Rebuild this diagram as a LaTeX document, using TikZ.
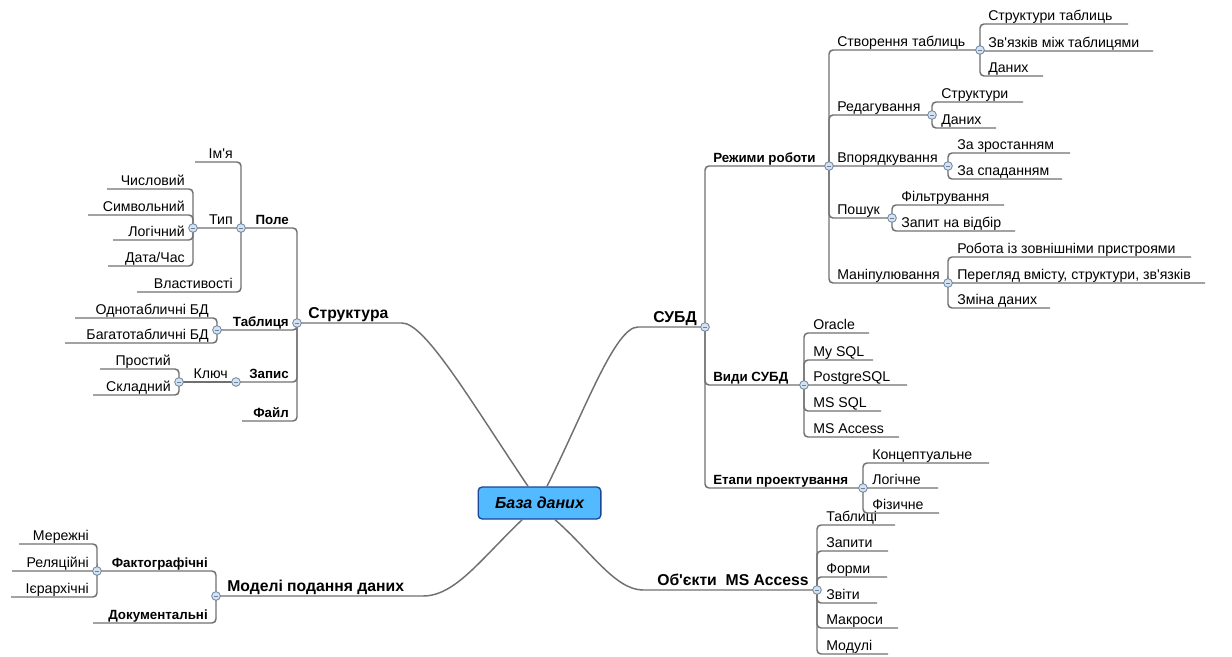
\documentclass[tikz,border=0pt]{standalone}
\usepackage{fontspec}
\setmainfont{Liberation Sans}
\usetikzlibrary{calc}
\definecolor{linegray}{RGB}{112,112,112}
\definecolor{knobfill}{RGB}{214,226,238}
\definecolor{knobedge}{RGB}{105,130,160}
\definecolor{dbfill}{RGB}{84,186,255}
\definecolor{dbedge}{RGB}{25,70,150}
\tikzset{%
  link/.style={draw=linegray, line width=1.1pt, rounded corners=3pt},
  curve/.style={draw=linegray, line width=1.1pt},
  leaftext/.style={inner sep=0pt, font=\fontsize{10.6}{12}\selectfont},
  branch/.style={inner sep=0pt, font=\fontsize{10}{12}\selectfont\bfseries},
  topic/.style={inner sep=0pt, font=\fontsize{11.8}{14}\selectfont\bfseries},
  knob/.style={circle, draw=knobedge, fill=knobfill, line width=0.6pt, minimum size=6.5pt, inner sep=0pt,
    path picture={\draw[knobedge, line width=0.6pt] ([xshift=1.6pt]path picture bounding box.west) -- ([xshift=-1.6pt]path picture bounding box.east);}},
  dbbox/.style={draw=dbedge, fill=dbfill, line width=1pt, rounded corners=3pt, minimum width=92pt, minimum height=24pt,
    font=\fontsize{12}{14}\selectfont\bfseries\itshape}
}
\newcommand{\apos}{\textquotesingle}

\begin{document}
\begin{tikzpicture}[x=0.75pt, y=-0.75pt]
\useasboundingbox (0,0) rectangle (1232,657);

\node [dbbox] (db) at (539.5,503) {База даних};

% main topics
\coordinate (strJ) at (297,323);  \coordinate (strE) at (402,323);
\coordinate (subdJ) at (705,327); \coordinate (subdE) at (638,327);
\coordinate (modJ) at (216,596);  \coordinate (modE) at (423,596);
\coordinate (objJ) at (817,590);  \coordinate (objE) at (643,590);

\draw [curve] ([xshift=-8.6pt]db.north) .. controls (470,400) and (425,323) .. (strE) -- (strJ);
\draw [curve] ([xshift=5.6pt]db.north) .. controls (585,410) and (615,327) .. (subdE) -- (subdJ);
\draw [curve] ([xshift=-13pt]db.south) .. controls (480,560) and (455,596) .. (modE) -- (modJ);
\draw [curve] ([xshift=11.6pt]db.south) .. controls (590,550) and (615,590) .. (objE) -- (objJ);

\node [topic, anchor=base west] (str) at (308,318) {Структура};
\node [topic, anchor=base east] (subd) at (697,322) {СУБД};
\node [topic, anchor=base west] (mod) at (227,591) {Моделі подання даних};
\node [topic, anchor=base east] (obj) at (809,585) {Об\apos єкти~~MS Access};

% Структура
\coordinate (poleJ) at (241,228);
\coordinate (tablJ) at (217,330);
\coordinate (zapJ) at (236,382);
\coordinate (fajlE) at (242,421);
\foreach \c in {poleJ, tablJ, zapJ, fajlE} {
  \draw [link] (strJ) |- (\c);
}
\foreach \n/\y/\t in {pole/228/Поле, tabl/330/Таблиця, zap/382/Запис, fajl/421/Файл} {
  \node [branch, anchor=base east] (\n) at (289,\y-4) {\t};
}

\coordinate (typJ) at (193,228);
\foreach \y/\e/\t [count=\i] in {162/195/Ім\apos я, 228/193/Тип, 292/137/Властивості} {
  \coordinate (pole\i) at (\e,\y);
  \draw [link] (poleJ) |- (pole\i);
  \node [leaftext, anchor=base east] (poleT\i) at (233,\y-4) {\t};
}
\foreach \y/\e/\t [count=\i] in {189/107/Числовий, 215/88/Символьний, 240/113/Логічний, 266/108/{Дата/Час}} {
  \coordinate (typ\i) at (\e,\y);
  \draw [link] (typJ) |- (typ\i);
  \node [leaftext, anchor=base east] (typT\i) at (185,\y-4) {\t};
}
\foreach \y/\e/\t [count=\i] in {318/75/Однотабличні БД, 343/65/Багатотабличні БД} {
  \coordinate (tabl\i) at (\e,\y);
  \draw [link] (tablJ) |- (tabl\i);
  \node [leaftext, anchor=base east] (tablT\i) at (209,\y-4) {\t};
}
\coordinate (kljJ) at (179,382);
\draw [link] (zapJ) -- (kljJ);
\node [leaftext, anchor=base east] (klj) at (228,378) {Ключ};
\foreach \y/\e/\t [count=\i] in {369/100/Простий, 395/93/Складний} {
  \coordinate (klj\i) at (\e,\y);
  \draw [link] (kljJ) |- (klj\i);
  \node [leaftext, anchor=base east] (kljT\i) at (171,\y-4) {\t};
}

% Моделі подання даних
\coordinate (faktJ) at (97,571);
\coordinate (dokE) at (93,623);
\draw [link] (modJ) |- (faktJ);
\draw [link] (modJ) |- (dokE);
\node [branch, anchor=base east] (fakt) at (208,567) {Фактографічні};
\node [branch, anchor=base east] (dok) at (208,619) {Документальні};
\foreach \y/\e/\t [count=\i] in {544/19/Мережні, 571/12/Реляційні, 597/11/Ієрархічні} {
  \coordinate (fakt\i) at (\e,\y);
  \draw [link] (faktJ) |- (fakt\i);
  \node [leaftext, anchor=base east] (faktT\i) at (89,\y-4) {\t};
}

% СУБД
\coordinate (rezhJ) at (829,166);
\coordinate (vydyJ) at (804,385);
\coordinate (etapJ) at (863,488);
\foreach \c in {rezhJ, vydyJ, etapJ} {
  \draw [link] (subdJ) |- (\c);
}
\foreach \n/\y/\t in {rezh/166/Режими роботи, vydy/385/Види СУБД, etap/488/Етапи проектування} {
  \node [branch, anchor=base west] (\n) at (713,\y-4) {\t};
}

\coordinate (stvJ) at (980,50);
\coordinate (redJ) at (932,115);
\coordinate (vporJ) at (948,166);
\coordinate (poshJ) at (892,218);
\coordinate (manJ) at (948,283);
\foreach \c/\y/\t in {stvJ/50/Створення таблиць, redJ/115/Редагування, vporJ/166/Впорядкування, poshJ/218/Пошук, manJ/283/Маніпулювання} {
  \draw [link] (rezhJ) |- (\c);
  \node [leaftext, anchor=base west] (\c T) at (837,\y-4) {\t};
}

\foreach \y/\e/\t [count=\i] in {24/1128/Структури таблиць, 51/1153/Зв\apos язків між таблицями, 76/1043/Даних} {
  \coordinate (stv\i) at (\e,\y);
  \draw [link] (stvJ) |- (stv\i);
  \node [leaftext, anchor=base west] (stvT\i) at (988,\y-4) {\t};
}
\foreach \y/\e/\t [count=\i] in {102/1023/Структури, 128/996/Даних} {
  \coordinate (red\i) at (\e,\y);
  \draw [link] (redJ) |- (red\i);
  \node [leaftext, anchor=base west] (redT\i) at (941,\y-4) {\t};
}
\foreach \y/\e/\t [count=\i] in {153/1070/За зростанням, 179/1062/За спаданням} {
  \coordinate (vpor\i) at (\e,\y);
  \draw [link] (vporJ) |- (vpor\i);
  \node [leaftext, anchor=base west] (vporT\i) at (957,\y-4) {\t};
}
\foreach \y/\e/\t [count=\i] in {205/1004/Фільтрування, 231/1015/Запит на відбір} {
  \coordinate (posh\i) at (\e,\y);
  \draw [link] (poshJ) |- (posh\i);
  \node [leaftext, anchor=base west] (poshT\i) at (901,\y-4) {\t};
}
\foreach \y/\e/\t [count=\i] in {257/1191/Робота із зовнішніми пристроями, 283/1205/{Перегляд вмісту, структури, зв\apos язків}, 308/1050/Зміна даних} {
  \coordinate (man\i) at (\e,\y);
  \draw [link] (manJ) |- (man\i);
  \node [leaftext, anchor=base west] (manT\i) at (957,\y-4) {\t};
}
\foreach \y/\e/\t [count=\i] in {333/869/Oracle, 360/873/My SQL, 385/907/PostgreSQL, 411/881/MS SQL, 437/899/MS Access} {
  \coordinate (vydy\i) at (\e,\y);
  \draw [link] (vydyJ) |- (vydy\i);
  \node [leaftext, anchor=base west] (vydyT\i) at (813,\y-4) {\t};
}
\foreach \y/\e/\t [count=\i] in {463/989/Концептуальне, 488/938/Логічне, 513/939/Фізичне} {
  \coordinate (etap\i) at (\e,\y);
  \draw [link] (etapJ) |- (etap\i);
  \node [leaftext, anchor=base west] (etapT\i) at (872,\y-4) {\t};
}

% Об'єкти MS Access
\foreach \y/\e/\t [count=\i] in {525/895/Таблиці, 551/888/Запити, 577/887/Форми, 603/877/Звіти, 628/898/Макроси, 654/888/Модулі} {
  \coordinate (obj\i) at (\e,\y);
  \draw [link] (objJ) |- (obj\i);
  \node [leaftext, anchor=base west] (objT\i) at (826,\y-4) {\t};
}

% collapse knobs
\foreach \c [count=\i] in {strJ, subdJ, modJ, objJ, poleJ, typJ, tablJ, zapJ, kljJ, faktJ, rezhJ, vydyJ, etapJ, stvJ, redJ, vporJ, poshJ, manJ} {
  \node [knob] (knob\i) at (\c) {};
}

\end{tikzpicture}
\end{document}
